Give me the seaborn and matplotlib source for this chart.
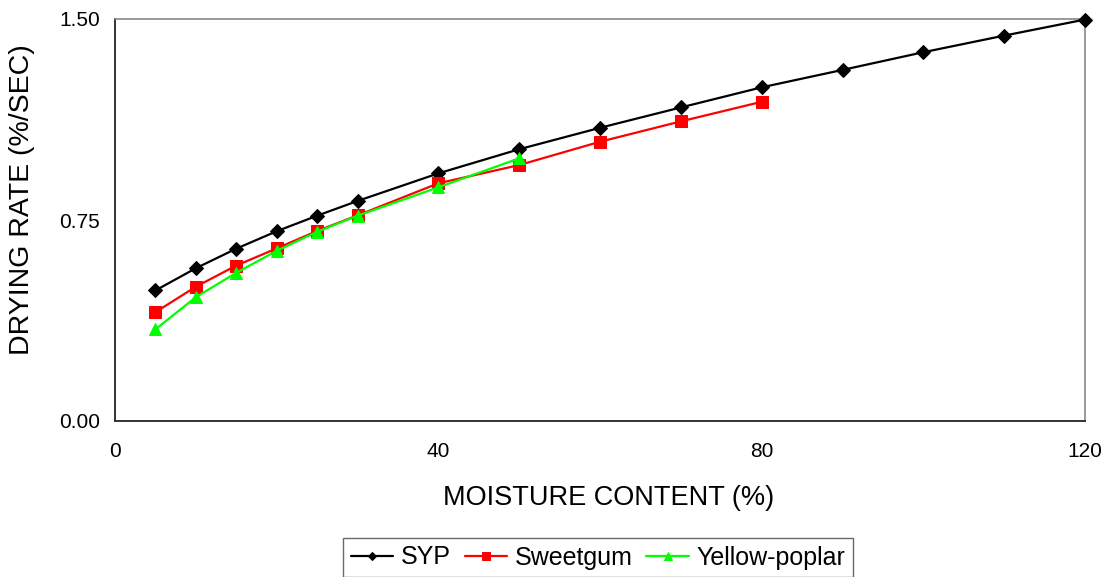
import matplotlib
matplotlib.use("Agg")
import matplotlib.pyplot as plt
import seaborn as sns
import pandas as pd

# Moisture content (%) sampled for each species
syp_mc = [5, 10, 15, 20, 25, 30, 40, 50, 60, 70, 80, 90, 100, 110, 120]
syp_rate = [0.487, 0.570, 0.643, 0.708, 0.766, 0.821, 0.924, 1.014, 1.094,
            1.170, 1.245, 1.310, 1.376, 1.438, 1.498]

sweetgum_mc = [5, 10, 15, 20, 25, 30, 40, 50, 60, 70, 80]
sweetgum_rate = [0.406, 0.501, 0.580, 0.644, 0.709, 0.767, 0.887, 0.955,
                 1.042, 1.118, 1.191]

poplar_mc = [5, 10, 15, 20, 25, 30, 40, 50]
poplar_rate = [0.342, 0.462, 0.553, 0.635, 0.706, 0.766, 0.872, 0.980]

species = ["SYP", "Sweetgum", "Yellow-poplar"]
colors = ["#000000", "#FF0000", "#00FF00"]
markers = ["D", "s", "^"]
marker_sizes = [7, 8, 9]

x_ticks = [0, 40, 80, 120]
y_ticks = [0.0, 0.75, 1.50]

df = pd.concat([
    pd.DataFrame({"mc": syp_mc, "rate": syp_rate, "species": species[0]}),
    pd.DataFrame({"mc": sweetgum_mc, "rate": sweetgum_rate, "species": species[1]}),
    pd.DataFrame({"mc": poplar_mc, "rate": poplar_rate, "species": species[2]}),
])

sns.set_theme(style="white")
plt.rcParams["font.family"] = ["Liberation Sans", "DejaVu Sans"]
plt.rcParams["text.color"] = "black"

fig = plt.figure(figsize=(11.12, 5.77), dpi=100)
ax = fig.add_axes([115 / 1112, 1 - 421 / 577, 970 / 1112, 402 / 577])

for name, col, mk, ms in zip(species, colors, markers, marker_sizes):
    sub = df[df["species"] == name]
    sns.lineplot(data=sub, x="mc", y="rate", ax=ax, color=col, marker=mk,
                 markersize=ms, markeredgecolor=col, linewidth=1.6,
                 label=name, clip_on=False, zorder=3)

ax.set_xlim(0, 120)
ax.set_ylim(0, 1.5)
ax.set_xticks(x_ticks)
ax.set_xticklabels([str(t) for t in x_ticks])
ax.set_yticks(y_ticks)
ax.set_yticklabels([f"{t:.2f}" for t in y_ticks])
ax.tick_params(axis="both", direction="out", length=5, width=1,
               colors="#333333", labelcolor="black", labelsize=15, pad=6)
ax.tick_params(axis="x", pad=10)

ax.set_xlabel("MOISTURE CONTENT (%)", fontsize=19.5, color="black")
ax.set_ylabel("DRYING RATE (%/SEC)", fontsize=20.5, color="black")
ax.xaxis.set_label_coords(0.509, -0.158)
ax.yaxis.set_label_coords(-0.082, 0.55)

for side in ["left", "bottom"]:
    ax.spines[side].set_color("#333333")
    ax.spines[side].set_linewidth(1.4)
for side in ["top", "right"]:
    ax.spines[side].set_color("#888888")
    ax.spines[side].set_linewidth(1.2)

handles, labels = ax.get_legend_handles_labels()
if ax.get_legend():
    ax.get_legend().remove()
leg = fig.legend(handles, labels, loc="lower center",
                 bbox_to_anchor=(598 / 1112, 0.0), ncol=3, fontsize=18,
                 frameon=True, fancybox=False, edgecolor="#444444",
                 handlelength=1.7, handletextpad=0.3, columnspacing=0.55,
                 borderpad=0.3, borderaxespad=0.0, markerscale=0.65)
leg.get_frame().set_linewidth(1.0)
for t in leg.get_texts():
    t.set_color("black")

fig.savefig("out.png", dpi=100)
